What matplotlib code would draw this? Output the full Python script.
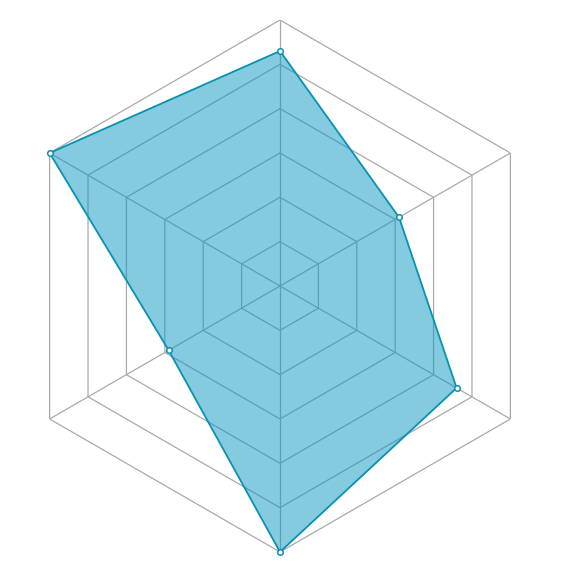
import numpy as np
import matplotlib
matplotlib.use('Agg')
import matplotlib.pyplot as plt

# Values, clockwise from the top axis
values = [5.3, 3.1, 4.6, 6.0, 2.9, 6.0]
levels = [1, 2, 3, 4, 5, 6]
n = len(values)

line_color = '#0891b2'
fill_color = '#0a98c0'
grid_color = '#aaaaaa'

theta = np.pi / 2 - np.arange(n) * 2 * np.pi / n
theta_closed = np.append(theta, theta[0])

fig = plt.figure(figsize=(5.73, 5.73), dpi=100)
ax = fig.add_axes([14 / 573, 21 / 573, 532 / 573, 532 / 573], projection='polar')
ax.set_ylim(0, 6)
ax.grid(False)
ax.spines['polar'].set_visible(False)
ax.set_xticks([])
ax.set_yticks([])

# Hexagonal grid rings and spokes
for lv in levels:
    ax.plot(theta_closed, [lv] * (n + 1), color=grid_color, lw=0.9, zorder=1)
for t in theta:
    ax.plot([t, t], [0, 6], color=grid_color, lw=0.9, zorder=1)

vals_closed = values + [values[0]]
ax.fill(theta_closed, vals_closed, color=fill_color, alpha=0.5, lw=0, zorder=2)
ax.plot(theta_closed, vals_closed, color=line_color, lw=1.3, zorder=3, clip_on=False)
ax.plot(theta, values, 'o', ms=4, mfc='white', mec=line_color, mew=1.1, zorder=4,
        clip_on=False)

fig.savefig('out.png', dpi=100)
